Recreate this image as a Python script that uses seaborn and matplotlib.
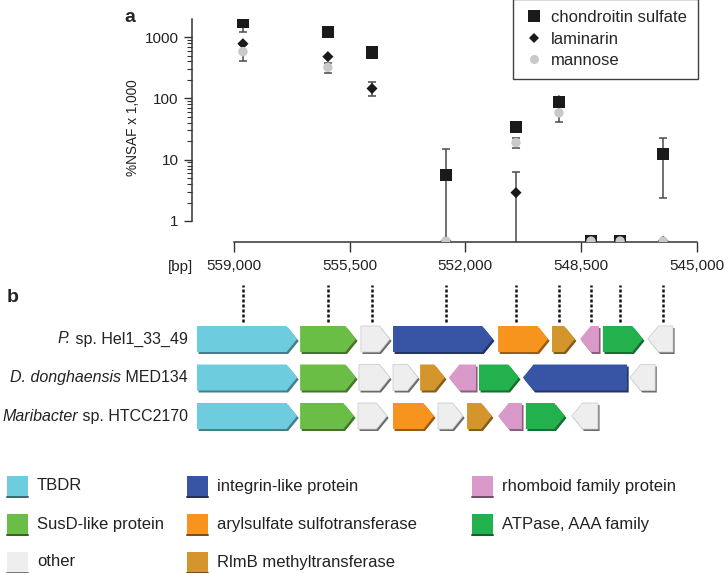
import numpy as np
import pandas as pd
import matplotlib
matplotlib.use("Agg")
import matplotlib.pyplot as plt
import seaborn as sns
from matplotlib.patches import Polygon, Rectangle
from matplotlib.lines import Line2D
from matplotlib import transforms
import matplotlib.ticker as mticker
from matplotlib.colors import to_rgb

sns.set_theme(style="white")
plt.rcParams["font.family"] = ["Liberation Sans", "DejaVu Sans"]

# ---------------- data: panel a ----------------
locus_bp = [558730, 556160, 554825, 552590, 550470, 549170, 548200, 547320, 546020]
chondroitin = [1750, 1210, 560, 5.6, 34, 88, 0, 0, 12.4]
chondroitin_sd = [550, 0, 0, 9.4, 0, 0, 0, 0, 10]
laminarin = [780, 480, 145, 0, 2.9, 92, 0, 0, 0]
laminarin_sd = [0, 0, 37, 0, 3.4, 0, 0, 0, 0]
mannose = [580, 320, np.nan, 0, 19, 58, 0, 0, 0]
mannose_sd = [170, 60, 0, 0, 3.5, 17, 0, 0, 0]
x_ticks = [559000, 555500, 552000, 548500, 545000]
y_ticks = [1, 10, 100, 1000]

# ---------------- data: panel b ----------------
species_italic = ["P.", "D. donghaensis", "Maribacter"]
species_plain = [" sp. Hel1_33_49", " MED134", " sp. HTCC2170"]
hel_left = [560120, 557000, 555160, 554190, 551010, 549380, 548530, 547840, 546480]
hel_right = [557090, 555310, 554280, 551170, 549500, 548690, 547960, 546630, 545720]
hel_strand = [1, 1, 1, 1, 1, 1, -1, 1, -1]
hel_cat = ["TBDR", "SusD", "other", "integrin", "aryl", "RlmB", "rhomboid", "ATPase", "other"]
med_left = [560120, 557000, 555220, 554190, 553370, 552500, 551590, 550260, 547020]
med_right = [557090, 555310, 554280, 553430, 552620, 551680, 550380, 547110, 546260]
med_strand = [1, 1, 1, 1, 1, -1, 1, -1, -1]
med_cat = ["TBDR", "SusD", "other", "other", "RlmB", "rhomboid", "ATPase", "integrin", "other"]
mar_left = [560120, 557000, 555250, 554190, 552830, 551950, 551010, 550170, 548780]
mar_right = [557090, 555370, 554370, 552950, 552070, 551200, 550290, 548990, 547990]
mar_strand = [1, 1, 1, 1, 1, 1, -1, 1, -1]
mar_cat = ["TBDR", "SusD", "other", "aryl", "other", "RlmB", "rhomboid", "ATPase", "other"]

cat_keys = ["TBDR", "SusD", "other", "integrin", "aryl", "RlmB", "rhomboid", "ATPase"]
cat_labels = ["TBDR", "SusD-like protein", "other", "integrin-like protein",
              "arylsulfate sulfotransferase", "RlmB methyltransferase",
              "rhomboid family protein", "ATPase, AAA family"]
cat_colors = ["#6dcddf", "#6abd45", "#eeeeee", "#3754a5", "#f7941e", "#d4962c",
              "#d999c9", "#23b14d"]
color_of = dict(zip(cat_keys, cat_colors))

W, H = 724, 573
fig = plt.figure(figsize=(W / 100, H / 100), dpi=100)

def fx(px):
    return px / W

def fy(py):
    return 1 - py / H

# ---------------- panel a ----------------
ax = fig.add_axes([fx(192), fy(242), fx(705) - fx(192), (242 - 19) / H])
ymin, ymax = 0.454, 1973
floor = 0.47
df = pd.DataFrame({"bp": locus_bp, "chondroitin": chondroitin, "laminarin": laminarin,
                   "mannose": mannose})
sds = {"chondroitin": chondroitin_sd, "laminarin": laminarin_sd, "mannose": mannose_sd}
styles = {"chondroitin": dict(marker="s", s=80, color="#1a1a1a"),
          "laminarin": dict(marker="D", s=32, color="#1a1a1a"),
          "mannose": dict(marker="o", s=46, color="#c9c9c9")}
for z, key in enumerate(["chondroitin", "laminarin", "mannose"]):
    vals = df[key].to_numpy(dtype=float)
    sd = np.array(sds[key], dtype=float)
    plotted = np.where(np.isnan(vals), np.nan, np.where(vals > 0, vals, floor))
    has = (sd > 0) & np.isfinite(vals)
    if has.any():
        lo = np.maximum(vals[has] - sd[has], 0.3)
        hi = vals[has] + sd[has]
        ax.errorbar(df["bp"][has], vals[has],
                    yerr=[vals[has] - lo, hi - vals[has]],
                    fmt="none", ecolor="#4a4a4a", elinewidth=1.1, capsize=3,
                    capthick=1.1, zorder=2)
    d = pd.DataFrame({"bp": df["bp"], "v": plotted}).dropna()
    sns.scatterplot(data=d, x="bp", y="v", ax=ax, linewidth=0, edgecolor="none",
                    zorder=3 + z, **styles[key])

ax.set_yscale("log")
ax.set_ylim(ymin, ymax)
ax.set_xlim(560270, 544752)
ax.set_xlabel("")
ax.set_ylabel("")
ax.yaxis.set_major_locator(mticker.FixedLocator(y_ticks))
ax.yaxis.set_major_formatter(mticker.FixedFormatter([str(t) for t in y_ticks]))
minor = [k * 10 ** d for d in range(0, 4) for k in range(2, 10) if k * 10 ** d < ymax]
ax.yaxis.set_minor_locator(mticker.FixedLocator(minor))
ax.yaxis.set_minor_formatter(mticker.NullFormatter())
ax.xaxis.set_major_locator(mticker.FixedLocator(x_ticks))
ax.xaxis.set_major_formatter(mticker.FixedFormatter([f"{t:,}" for t in x_ticks]))
ax.xaxis.set_minor_locator(mticker.NullLocator())
for s in ["top", "right"]:
    ax.spines[s].set_visible(False)
ax.spines["left"].set_bounds(1, ymax)
ax.spines["bottom"].set_bounds(545000, 559000)
for s in ["left", "bottom"]:
    ax.spines[s].set_color("#333333")
    ax.spines[s].set_linewidth(1.1)
ax.tick_params(axis="y", which="major", left=True, length=5.8, width=1.0,
               color="#333333", pad=4, labelsize=11, labelcolor="#222222")
ax.tick_params(axis="y", which="minor", left=True, length=3.4, width=0.8, color="#333333")
ax.tick_params(axis="x", which="major", bottom=True, length=7, width=1.0,
               color="#333333", pad=5, labelsize=11, labelcolor="#222222")
ax.patch.set_alpha(0)

fig.text(fx(193), fy(267), "[bp]", ha="right", va="center", fontsize=11, color="#222222")
fig.text(fx(133), fy(128), "%NSAF x 1,000", rotation=90, ha="center", va="center",
         fontsize=9.8, color="#222222")
fig.text(fx(130), fy(17), "a", ha="center", va="center", fontsize=14, fontweight="bold")
fig.text(fx(13), fy(297), "b", ha="center", va="center", fontsize=14, fontweight="bold")

handles = [Line2D([], [], ls="none", marker="s", ms=8.5, color="#1a1a1a", mew=0),
           Line2D([], [], ls="none", marker="D", ms=5.5, color="#1a1a1a", mew=0),
           Line2D([], [], ls="none", marker="o", ms=6.5, color="#c9c9c9", mew=0)]
leg = fig.legend(handles, ["chondroitin sulfate", "laminarin", "mannose"],
                 loc="upper right", bbox_to_anchor=(fx(698), fy(-1)),
                 bbox_transform=fig.transFigure, frameon=True, fancybox=False,
                 fontsize=12, handlelength=1.2, handletextpad=0.45,
                 labelspacing=0.4, borderpad=0.65, borderaxespad=0)
leg.get_frame().set_edgecolor("#111111")
leg.get_frame().set_linewidth(1.0)

# ---------------- panel b ----------------
axb = fig.add_axes([fx(192), fy(440), fx(705) - fx(192), 160 / H])
axb.set_xlim(560270, 544752)
axb.set_ylim(2.623, -1.532)
axb.axis("off")
h = 0.675
head = 320
shadow_tr = transforms.offset_copy(axb.transData, fig=fig, x=1.6, y=-2.0, units="dots")

def darker(c, f=0.6):
    r, g, b = to_rgb(c)
    return (r * f, g * f, b * f)

def arrow_pts(left, right, strand, y):
    hd = min(head, 0.8 * (left - right))
    if strand > 0:
        return [(left, y - h / 2), (right + hd, y - h / 2), (right, y),
                (right + hd, y + h / 2), (left, y + h / 2)]
    return [(left, y), (left - hd, y - h / 2), (right, y - h / 2),
            (right, y + h / 2), (left - hd, y + h / 2)]

rows = [(hel_left, hel_right, hel_strand, hel_cat),
        (med_left, med_right, med_strand, med_cat),
        (mar_left, mar_right, mar_strand, mar_cat)]
for r, (L, R, S, C) in enumerate(rows):
    for left, right, strand, cat in zip(L, R, S, C):
        pts = arrow_pts(left, right, strand, r)
        col = color_of[cat]
        sf = 0.45 if cat == "other" else 0.62
        axb.add_patch(Polygon(pts, closed=True, facecolor=darker(col, sf),
                              edgecolor="none", transform=shadow_tr, zorder=1))
        axb.add_patch(Polygon(pts, closed=True, facecolor=col,
                              edgecolor="#cfcfcf" if cat == "other" else "none",
                              lw=0.6, zorder=2))

# species labels: italic genus part followed by plain part, right-aligned
renderer = fig.canvas.get_renderer()
lab_tr = transforms.blended_transform_factory(fig.transFigure, axb.transData)
for r, (it, pl) in enumerate(zip(species_italic, species_plain)):
    t = axb.text(fx(188), r, pl, transform=lab_tr, ha="right", va="center",
                 fontsize=11.5, color="#222222")
    bb = t.get_window_extent(renderer=renderer)
    axb.text(bb.x0 / (W), r, it, transform=lab_tr, ha="right", va="center",
             fontsize=11.5, color="#222222", style="italic")

for bp in locus_bp:
    axb.plot([bp, bp], [-h / 2 - 0.1, -h / 2 - 1.06], color="#111111", lw=1.8,
             ls=(0, (1.2, 0.8)), zorder=3)

# ---------------- legend panel b ----------------
lax = fig.add_axes([0, 0, 1, 1])
lax.set_xlim(0, W)
lax.set_ylim(H, 0)
lax.axis("off")
lax.patch.set_alpha(0)
col_x = [7, 187, 472]
row_y = [486, 524, 562]
for i, (lab, col) in enumerate(zip(cat_labels, cat_colors)):
    cx = col_x[i // 3]
    cy = row_y[i % 3]
    lax.add_patch(Rectangle((cx, cy - 10), 21, 20, facecolor=col, edgecolor="none"))
    lax.plot([cx, cx + 21], [cy + 10.5, cy + 10.5], color=darker(col, 0.5), lw=1.4)
    lax.text(cx + 30, cy, lab, ha="left", va="center", fontsize=12, color="#222222")

fig.savefig("out.png", dpi=100)
